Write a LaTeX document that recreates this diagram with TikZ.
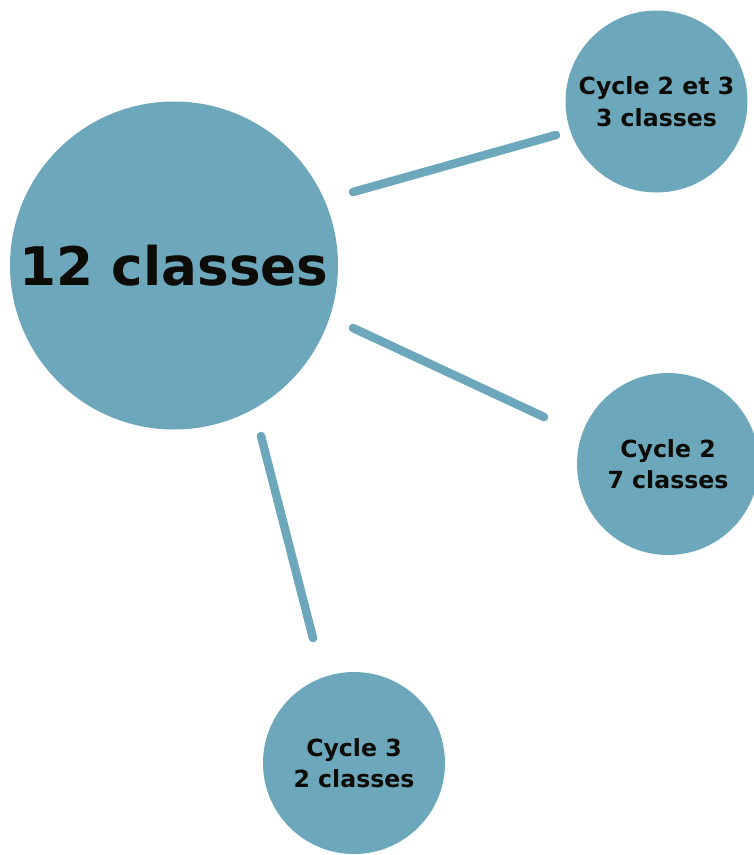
\documentclass[tikz,border=0pt]{standalone}
\usepackage{fontspec}
\setmainfont{DejaVu Sans}
\definecolor{bubble}{RGB}{108,167,188}
\definecolor{ink}{RGB}{12,11,6}
\begin{document}
\begin{tikzpicture}[x=1pt,y=-1pt,
  bubblenode/.style={circle,fill=bubble,inner sep=0pt,text=ink,font=\bfseries,align=center},
  smallbubble/.style={bubblenode,minimum size=182pt,font=\fontsize{23.6}{31.5}\selectfont\bfseries},
  link/.style={draw=bubble,line width=8.5pt,line cap=round}]
\useasboundingbox (0,0) rectangle (754,855);
\begin{scope}
\clip (0,0) rectangle (754,855);
\node[bubblenode,minimum size=328pt,font=\fontsize{53.2}{60}\selectfont\bfseries] (main) at (174,265.5) {12 classes};
\node[smallbubble] (c23) at (656.5,101.5) {Cycle 2 et 3\\3 classes};
\node[smallbubble] (c2) at (668,464) {Cycle 2\\7 classes};
\node[smallbubble] (c3) at (354,763) {Cycle 3\\2 classes};
\end{scope}
\coordinate (a1) at (353,192);
\coordinate (b1) at (556,135);
\coordinate (a2) at (353,328);
\coordinate (b2) at (544,417);
\coordinate (a3) at (261,436);
\coordinate (b3) at (313,638);
\draw[link] (a1) -- (b1);
\draw[link] (a2) -- (b2);
\draw[link] (a3) -- (b3);
\end{tikzpicture}
\end{document}
